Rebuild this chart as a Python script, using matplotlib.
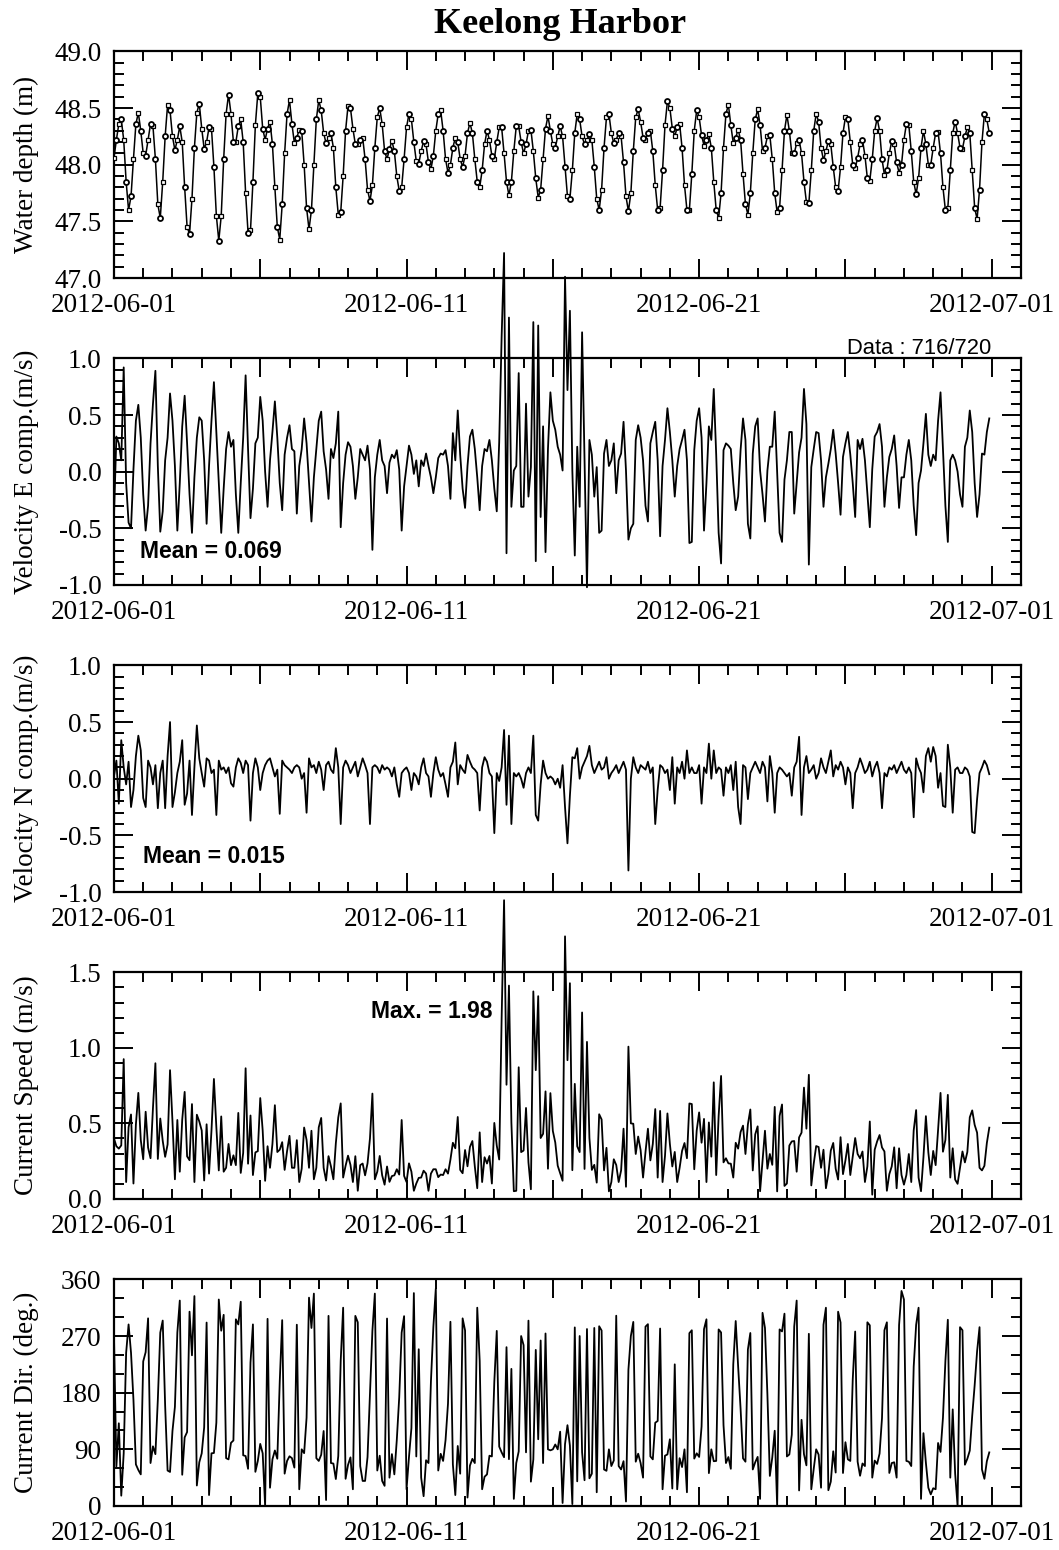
import numpy as np
import pandas as pd
import matplotlib
matplotlib.use("Agg")
import matplotlib.pyplot as plt
import matplotlib.dates as mdates
from matplotlib.ticker import MultipleLocator, FormatStrFormatter, FuncFormatter

# ── Station record: 2-hourly samples starting 2012-06-01 00:00 ───────────────
STATION = "Keelong Harbor"
START = "2012-06-01"
STEP = "2h"

# water depth (m), one row per day
DEPTH = [
    48.06, 48.22, 48.36, 48.40, 48.22, 47.85, 47.60, 47.72, 48.05, 48.36, 48.46, 48.30,
    48.10, 48.08, 48.22, 48.36, 48.34, 48.05, 47.65, 47.53, 47.85, 48.25, 48.53, 48.48,
    48.25, 48.13, 48.22, 48.34, 48.20, 47.80, 47.45, 47.39, 47.70, 48.15, 48.46, 48.54,
    48.32, 48.14, 48.20, 48.33, 48.32, 47.98, 47.55, 47.33, 47.55, 48.05, 48.45, 48.62,
    48.45, 48.20, 48.20, 48.34, 48.40, 48.20, 47.75, 47.40, 47.42, 47.85, 48.35, 48.63,
    48.60, 48.32, 48.22, 48.32, 48.38, 48.18, 47.80, 47.45, 47.34, 47.65, 48.10, 48.45,
    48.57, 48.36, 48.19, 48.24, 48.31, 48.30, 48.00, 47.62, 47.43, 47.60, 48.00, 48.40,
    48.57, 48.48, 48.28, 48.19, 48.24, 48.28, 48.15, 47.80, 47.56, 47.58, 47.90, 48.30,
    48.52, 48.50, 48.32, 48.18, 48.18, 48.22, 48.24, 48.05, 47.78, 47.68, 47.82, 48.15,
    48.42, 48.50, 48.36, 48.12, 48.05, 48.14, 48.21, 48.12, 47.90, 47.77, 47.80, 48.05,
    48.33, 48.45, 48.40, 48.20, 48.03, 48.01, 48.12, 48.21, 48.18, 48.02, 47.96, 48.08,
    48.30, 48.45, 48.48, 48.30, 48.05, 47.93, 48.00, 48.15, 48.24, 48.20, 48.05, 47.98,
    48.08, 48.28, 48.37, 48.28, 48.05, 47.85, 47.80, 47.95, 48.18, 48.30, 48.22, 48.08,
    48.05, 48.20, 48.33, 48.33, 48.10, 47.85, 47.73, 47.85, 48.12, 48.34, 48.34, 48.20,
    48.10, 48.18, 48.30, 48.31, 48.12, 47.88, 47.71, 47.78, 48.05, 48.32, 48.43, 48.30,
    48.18, 48.15, 48.25, 48.34, 48.25, 47.98, 47.72, 47.70, 47.95, 48.28, 48.45, 48.40,
    48.25, 48.18, 48.22, 48.27, 48.22, 47.98, 47.70, 47.60, 47.78, 48.15, 48.42, 48.45,
    48.28, 48.19, 48.22, 48.28, 48.25, 48.02, 47.72, 47.59, 47.75, 48.12, 48.42, 48.49,
    48.38, 48.24, 48.22, 48.28, 48.30, 48.12, 47.82, 47.60, 47.62, 47.95, 48.35, 48.56,
    48.50, 48.32, 48.25, 48.33, 48.36, 48.15, 47.82, 47.60, 47.60, 47.92, 48.30, 48.48,
    48.42, 48.26, 48.17, 48.22, 48.27, 48.15, 47.85, 47.60, 47.53, 47.75, 48.15, 48.45,
    48.53, 48.35, 48.19, 48.24, 48.31, 48.22, 47.92, 47.65, 47.56, 47.75, 48.10, 48.40,
    48.49, 48.35, 48.12, 48.15, 48.25, 48.26, 48.05, 47.75, 47.58, 47.62, 47.95, 48.30,
    48.44, 48.30, 48.10, 48.10, 48.19, 48.22, 48.10, 47.85, 47.67, 47.66, 47.95, 48.30,
    48.45, 48.38, 48.15, 48.04, 48.12, 48.21, 48.18, 47.98, 47.80, 47.77, 47.98, 48.28,
    48.42, 48.40, 48.20, 48.00, 47.97, 48.06, 48.18, 48.22, 48.08, 47.88, 47.86, 48.05,
    48.30, 48.41, 48.30, 48.05, 47.91, 47.95, 48.10, 48.21, 48.18, 48.02, 47.93, 48.00,
    48.22, 48.36, 48.35, 48.12, 47.85, 47.74, 47.88, 48.15, 48.30, 48.18, 48.00, 48.00,
    48.15, 48.28, 48.29, 48.10, 47.80, 47.60, 47.62, 47.95, 48.28, 48.38, 48.28, 48.15,
    48.14, 48.25, 48.33, 48.28, 47.95, 47.62, 47.52, 47.78, 48.20, 48.45, 48.40, 48.28,
]

# east velocity component (m/s)
VEL_E = [
    -0.40, 0.31, 0.25, 0.10, 0.92, -0.10, -0.45, -0.50, 0.02, 0.45, 0.59, 0.30,
    -0.20, -0.52, -0.30, 0.25, 0.60, 0.89, 0.05, -0.53, -0.35, 0.10, 0.30, 0.69,
    0.45, 0.05, -0.52, -0.10, 0.40, 0.67, 0.25, -0.20, -0.54, -0.05, 0.30, 0.48,
    0.45, 0.10, -0.46, 0.05, 0.45, 0.79, 0.35, -0.10, -0.54, -0.15, 0.20, 0.35,
    0.22, 0.28, -0.20, -0.54, -0.10, 0.30, 0.85, 0.20, -0.41, -0.15, 0.25, 0.30,
    0.66, 0.45, 0.00, -0.31, 0.10, 0.35, 0.62, 0.30, -0.10, -0.34, 0.15, 0.30,
    0.41, 0.20, 0.18, -0.37, 0.05, 0.20, 0.47, 0.25, -0.10, -0.44, -0.05, 0.20,
    0.45, 0.53, 0.18, 0.02, -0.24, 0.20, 0.12, 0.25, 0.53, -0.49, -0.10, 0.15,
    0.26, 0.22, 0.05, -0.24, -0.05, 0.20, 0.15, 0.10, 0.23, 0.02, -0.69, -0.05,
    0.15, 0.28, 0.10, 0.05, -0.19, 0.08, 0.15, 0.12, 0.19, 0.02, -0.52, -0.13,
    0.05, 0.23, 0.15, -0.02, 0.10, -0.13, 0.10, 0.05, 0.16, 0.05, -0.05, -0.19,
    -0.05, 0.12, 0.16, 0.15, 0.19, 0.05, -0.24, 0.34, 0.10, 0.54, 0.15, -0.15,
    -0.32, 0.05, 0.31, 0.37, 0.20, -0.05, -0.34, 0.05, 0.20, 0.18, 0.28, 0.10,
    -0.15, -0.35, 0.26, 1.19, 1.93, -0.72, 1.36, -0.31, 0.01, 0.05, 0.87, -0.31,
    -0.31, 0.60, -0.22, 0.04, 1.32, -0.79, 1.29, -0.40, 0.40, -0.71, 0.20, 0.70,
    0.45, 0.37, 0.22, 0.15, 0.01, 1.72, 0.72, 1.42, 0.01, -0.74, 0.22, -0.31,
    1.23, 0.13, -1.02, 0.28, 0.15, -0.22, 0.04, -0.54, -0.52, 0.16, 0.28, 0.05,
    0.10, 0.25, -0.19, 0.10, 0.16, 0.44, 0.01, -0.60, -0.50, -0.46, 0.28, 0.41,
    0.30, 0.10, -0.30, -0.44, 0.25, 0.35, 0.44, 0.10, -0.57, 0.05, 0.28, 0.56,
    0.35, 0.10, -0.22, 0.05, 0.20, 0.28, 0.37, 0.10, -0.63, -0.62, 0.19, 0.45,
    0.56, 0.30, -0.52, -0.10, 0.40, 0.28, 0.73, 0.15, -0.54, -0.81, 0.19, 0.25,
    0.23, 0.20, -0.10, -0.34, -0.22, 0.19, 0.47, 0.28, -0.46, -0.59, 0.16, 0.40,
    0.47, 0.01, -0.20, -0.44, 0.01, 0.22, 0.22, 0.53, 0.00, -0.54, -0.62, -0.07,
    0.10, 0.35, 0.35, -0.37, -0.10, 0.17, 0.30, 0.73, 0.42, -0.82, 0.04, 0.20,
    0.35, 0.34, 0.10, -0.31, -0.05, 0.07, 0.20, 0.37, 0.16, -0.10, -0.38, 0.13,
    0.25, 0.35, 0.15, -0.10, -0.40, 0.28, 0.20, 0.29, 0.10, -0.20, -0.49, 0.02,
    0.31, 0.35, 0.42, 0.22, -0.31, -0.05, 0.13, 0.20, 0.32, 0.05, -0.32, -0.05,
    -0.05, 0.15, 0.28, 0.10, -0.30, -0.56, -0.10, 0.01, 0.25, 0.51, 0.15, 0.05,
    0.15, 0.10, 0.45, 0.70, 0.20, -0.30, -0.62, 0.10, 0.15, 0.10, 0.00, -0.20,
    -0.31, 0.22, 0.30, 0.54, 0.35, -0.10, -0.40, -0.20, 0.16, 0.15, 0.35, 0.47,
]

# north velocity component (m/s)
VEL_N = [
    0.02, 0.16, -0.22, 0.34, 0.10, -0.05, 0.15, -0.25, -0.10, 0.20, 0.38, 0.25,
    -0.17, -0.25, 0.16, 0.10, -0.05, 0.12, -0.26, 0.05, 0.16, -0.26, 0.20, 0.50,
    -0.25, -0.12, 0.05, 0.15, 0.34, -0.23, -0.13, 0.16, -0.32, 0.10, 0.47, 0.18,
    0.05, -0.07, 0.18, 0.16, 0.05, 0.08, -0.32, 0.16, 0.08, 0.10, 0.05, 0.10,
    -0.04, -0.07, 0.10, 0.18, 0.14, 0.05, 0.16, 0.12, -0.37, 0.05, 0.18, 0.10,
    -0.10, 0.05, 0.12, 0.16, 0.18, 0.10, 0.02, 0.08, -0.31, 0.16, 0.12, 0.10,
    0.08, 0.05, 0.10, 0.12, 0.10, 0.00, 0.05, -0.30, 0.18, 0.10, 0.12, 0.05,
    0.15, 0.08, -0.10, 0.12, 0.15, 0.08, 0.05, 0.27, 0.10, -0.40, 0.10, 0.16,
    0.12, 0.05, 0.10, 0.15, 0.02, 0.10, 0.18, 0.12, 0.05, -0.40, 0.10, 0.12,
    0.10, 0.05, 0.12, 0.08, 0.10, 0.08, 0.02, 0.10, -0.05, -0.16, 0.05, 0.08,
    0.10, 0.05, -0.10, 0.05, 0.02, -0.05, 0.10, 0.18, 0.05, 0.02, -0.16, 0.05,
    0.19, 0.08, 0.02, 0.05, -0.05, -0.16, 0.10, 0.15, 0.32, -0.05, 0.12, 0.08,
    0.05, 0.21, 0.15, 0.10, 0.08, 0.05, -0.28, 0.10, 0.19, 0.15, 0.05, 0.02,
    -0.48, 0.05, -0.02, 0.10, 0.43, -0.23, 0.38, -0.40, 0.05, 0.02, 0.05, 0.00,
    -0.08, 0.05, 0.10, 0.05, 0.38, -0.32, -0.37, -0.05, 0.16, 0.05, 0.00, 0.02,
    0.00, -0.05, 0.00, -0.08, 0.12, -0.25, -0.57, -0.15, 0.19, 0.18, 0.27, 0.00,
    0.10, 0.15, 0.20, 0.29, 0.12, 0.05, 0.10, 0.15, 0.08, 0.10, 0.19, 0.00,
    0.05, 0.08, 0.12, 0.05, 0.10, 0.15, 0.08, -0.81, 0.00, 0.19, 0.10, 0.05,
    0.12, 0.10, 0.08, 0.15, 0.05, 0.10, -0.40, -0.10, 0.12, 0.10, 0.05, 0.08,
    -0.10, 0.19, -0.22, 0.10, 0.05, 0.15, 0.00, 0.25, 0.05, 0.10, 0.05, 0.05,
    0.12, -0.22, 0.10, 0.05, 0.31, 0.00, 0.25, 0.05, 0.10, 0.08, -0.15, 0.10,
    0.05, 0.12, -0.10, 0.15, -0.25, -0.40, 0.12, 0.10, -0.18, 0.05, 0.10, 0.15,
    0.10, 0.05, 0.15, 0.10, -0.20, 0.20, 0.05, -0.30, 0.05, 0.10, 0.08, 0.05,
    0.02, 0.05, -0.15, 0.10, 0.15, 0.37, -0.32, 0.10, 0.20, 0.05, 0.08, 0.12,
    0.00, 0.05, 0.18, 0.10, 0.05, 0.15, 0.25, 0.02, 0.12, 0.08, 0.15, 0.10,
    -0.05, 0.10, 0.05, -0.26, 0.05, 0.10, 0.18, 0.12, 0.05, 0.08, 0.15, 0.02,
    0.10, 0.15, 0.05, -0.26, 0.05, 0.02, 0.10, 0.08, 0.12, 0.05, 0.10, 0.15,
    0.08, 0.05, 0.10, 0.05, -0.34, 0.18, 0.10, 0.05, -0.12, 0.20, 0.27, 0.15,
    0.28, 0.20, -0.08, 0.05, -0.24, -0.25, 0.30, 0.10, -0.30, 0.08, 0.10, 0.05,
    0.05, 0.10, 0.08, 0.02, -0.47, -0.48, -0.18, 0.05, 0.10, 0.16, 0.12, 0.04,
]

MEAN_E_TEXT = "Mean = 0.069"
MEAN_N_TEXT = "Mean = 0.015"
DATA_TEXT = "Data : 716/720"
LABELLED_DAYS = (1, 11, 21)

YLABELS = ["Water depth (m)", "Velocity E comp.(m/s)", "Velocity N comp.(m/s)",
           "Current Speed (m/s)", "Current Dir. (deg.)"]
YLIMS = [(47.0, 49.0), (-1.0, 1.0), (-1.0, 1.0), (0.0, 1.5), (0.0, 360.0)]
YMAJOR = [0.5, 0.5, 0.5, 0.5, 90]
YMINOR = [0.1, 0.1, 0.1, 0.1, 30]
YFMT = ["%.1f", "%.1f", "%.1f", "%.1f", "%d"]

assert len(DEPTH) == len(VEL_E) == len(VEL_N)

plt.rcParams["font.family"] = ["Liberation Serif", "DejaVu Serif"]
plt.rcParams["axes.unicode_minus"] = False
SANS = ["Liberation Sans", "DejaVu Sans"]

depth = np.array(DEPTH)
ve = np.array(VEL_E)
vn = np.array(VEL_N)
speed = np.hypot(ve, vn)
direction = np.degrees(np.arctan2(ve, vn)) % 360
times = pd.date_range(START, periods=len(depth), freq=STEP)

x_lo = pd.Timestamp("2012-06-01")
x_hi = pd.Timestamp("2012-07-02")


def day(d):
    return mdates.date2num(x_lo + pd.Timedelta(days=d))


def date_label(v, pos):
    d = mdates.num2date(v)
    return d.strftime("%Y-%m-%d") if d.day in LABELLED_DAYS else ""


fig = plt.figure(figsize=(10.59, 15.5), dpi=100)
left, width, height = 0.1076, 0.8565, 0.1462
bottoms = [0.8206, 0.6226, 0.4245, 0.2265, 0.0284]
axes = [fig.add_axes([left, b, width, height]) for b in bottoms]

for i, ax in enumerate(axes):
    ax.set_xlim(x_lo, x_hi)
    ax.set_ylim(*YLIMS[i])
    ax.xaxis.set_major_locator(mdates.DayLocator(bymonthday=[1, 6, 11, 16, 21, 26]))
    ax.xaxis.set_minor_locator(mdates.DayLocator())
    ax.xaxis.set_major_formatter(FuncFormatter(date_label))
    ax.yaxis.set_major_locator(MultipleLocator(YMAJOR[i]))
    ax.yaxis.set_minor_locator(MultipleLocator(YMINOR[i]))
    ax.yaxis.set_major_formatter(FormatStrFormatter(YFMT[i]))
    ax.tick_params(which="both", direction="in", top=True, right=True, width=1.4)
    ax.tick_params(which="major", length=14)
    ax.tick_params(which="minor", length=7)
    ax.tick_params(axis="x", labelsize=19.5, pad=11)
    ax.tick_params(axis="y", labelsize=19.5, pad=9)
    for sp in ax.spines.values():
        sp.set_linewidth(1.6)
    ax.set_ylabel(YLABELS[i], fontsize=19.5)
    ax.yaxis.set_label_coords(-0.083, 0.5)

# water depth with alternating square / circle markers
ax = axes[0]
ax.plot(times, depth, color="black", lw=1.1, zorder=2)
ax.plot(times[::2], depth[::2], ls="none", marker="s", ms=3.3, mfc="white",
        mec="black", mew=0.9, zorder=3)
ax.plot(times[1::2], depth[1::2], ls="none", marker="o", ms=3.6, mfc="white",
        mec="black", mew=1.3, zorder=3)
fig.text(0.529, 0.9839, STATION, ha="center", va="center", fontsize=26,
         fontweight="bold")

ax = axes[1]
ax.plot(times, ve, color="black", lw=1.3, clip_on=False)
ax.text(day(0.89), -0.76, MEAN_E_TEXT, fontsize=16.5, fontweight="bold",
        family=SANS, va="baseline", ha="left")
ax.text(day(30), 1.018, DATA_TEXT, fontsize=15.8, family=SANS, ha="right",
        va="baseline", transform=ax.get_xaxis_transform())

ax = axes[2]
ax.plot(times, vn, color="black", lw=1.3)
ax.text(day(0.99), -0.745, MEAN_N_TEXT, fontsize=16.5, fontweight="bold",
        family=SANS, va="baseline", ha="left")

ax = axes[3]
ax.plot(times, speed, color="black", lw=1.3, clip_on=False)
ax.text(day(8.78), 1.195, f"Max. = {speed.max():.2f}", fontsize=16.5,
        fontweight="bold", family=SANS, va="baseline", ha="left")

ax = axes[4]
ax.plot(times, direction, color="black", lw=1.3)

fig.savefig("out.png", dpi=100)
